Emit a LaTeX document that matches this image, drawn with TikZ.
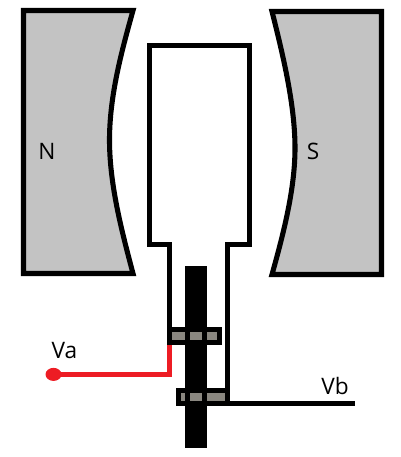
\documentclass[tikz,border=0pt]{standalone}
\usepackage{fontspec}
\usetikzlibrary{shapes.geometric}
\setmainfont{Open Sans}
\definecolor{pole}{HTML}{C3C3C3}
\definecolor{pad}{HTML}{8A8780}
\definecolor{wire}{HTML}{ED1C24}
\tikzset{
  magnet/.style={draw=black,fill=pole,line width=3.8pt,line join=miter},
  outline/.style={draw=black,line width=3.7pt,line join=miter},
  blackbar/.style={fill=black,draw=none},
  padbit/.style={fill=pad,draw=none},
  redwire/.style={draw=wire,line width=3.6pt,line join=miter},
  lbl/.style={inner sep=0pt,font=\fontsize{17}{20}\selectfont}
}
\begin{document}
\begin{tikzpicture}[x=0.75pt,y=-0.75pt]
\useasboundingbox (0,0) rectangle (400,457);
% magnets
\draw[magnet] (23.5,10.5) -- (133,10.5) .. controls (122,50) and (109.5,95) .. (109.5,140)
  .. controls (109.5,185) and (122,232) .. (133,273.5) -- (23.5,273.5) -- cycle;
\draw[magnet] (381.5,11.5) -- (272,11.5) .. controls (283,55) and (295,105) .. (295,148)
  .. controls (295,190) and (283,235) .. (272,274.5) -- (381.5,274.5) -- cycle;
% coil
\coordinate (coilL) at (169.5,329);
\coordinate (coilR) at (227.5,403.5);
\draw[outline] (coilL) -- (169.5,244.4) -- (149.5,244.4) -- (149.5,45.5) -- (249.7,45.5)
  -- (249.7,244.4) -- (227.5,244.4) -- (coilR);
% shaft
\fill[blackbar] (185,266) rectangle (207,448);
% rings
\fill[blackbar] (167,327) rectangle (222,345);
\fill[padbit] (172,332) rectangle (185,340);
\fill[padbit] (190,332) rectangle (202,340);
\fill[padbit] (207,332) rectangle (217,340);
\fill[blackbar] (176,388) rectangle (230,405.7);
\fill[padbit] (181,393) rectangle (185,401);
\fill[padbit] (190,393) rectangle (202,401);
\fill[padbit] (207,393) rectangle (225,401);
% leads
\coordinate (redtop) at (169.5,345);
\node[ellipse,fill=wire,draw=none,minimum width=12pt,minimum height=9.8pt,inner sep=0pt] (dot) at (53.5,374.4) {};
\draw[redwire] (redtop) -- (169.5,374.4) -- (dot.center);
\coordinate (vbend) at (355,403.5);
\draw[draw=black,line width=3.5pt] (coilR) -- (vbend);
% labels
\node[lbl] (N) at (47,151.5) {N};
\node[lbl] (S) at (313,151) {S};
\node[lbl] (Va) at (64.5,350.5) {Va};
\node[lbl] (Vb) at (335,385.5) {Vb};
\end{tikzpicture}
\end{document}
